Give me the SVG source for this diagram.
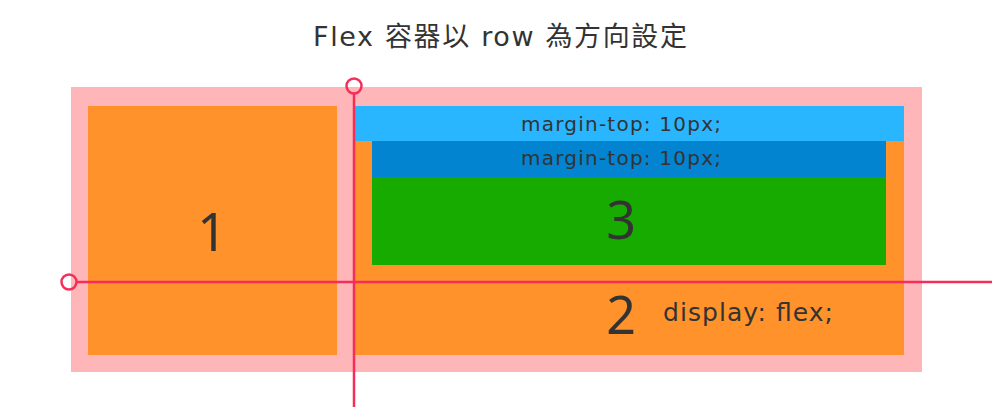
<svg xmlns="http://www.w3.org/2000/svg" width="1000" height="419" viewBox="0 0 1000 419">
<style>
text{font-family:"DejaVu Sans","Noto Sans CJK TC",sans-serif;fill:#333;}
.big{font-size:52px;text-anchor:middle;font-family:"Noto Sans",sans-serif;}
.m{font-size:20px;text-anchor:middle;}
.guide{stroke:#f72d59;stroke-width:2.5;fill:none;}
</style>
<rect width="1000" height="419" fill="#fff"/>
<text x="500" y="46" font-size="27" text-anchor="middle" textLength="374" lengthAdjust="spacing">Flex 容器以 row 為方向設定</text>
<g id="container">
<rect x="71" y="87" width="851" height="285" fill="#ffb6b9"/>
</g>
<g id="item1">
<rect x="88" y="106" width="249" height="249" fill="#ff922b"/>
<text class="big" x="212" y="251">1</text>
</g>
<g id="item2">
<rect x="355" y="106" width="549" height="35" fill="#29b6ff"/>
<rect x="355" y="141" width="549" height="214" fill="#ff922b"/>
<text class="m" x="621" y="131" textLength="200" lengthAdjust="spacing">margin-top: 10px;</text>
<text class="big" x="621" y="334">2</text>
<text x="663" y="321" font-size="25" textLength="170" lengthAdjust="spacing">display: flex;</text>
</g>
<g id="item3">
<rect x="372" y="141" width="514" height="36" fill="#0284d0"/>
<rect x="372" y="177" width="514" height="88" fill="#17ab00"/>
<text class="m" x="621" y="165" textLength="200" lengthAdjust="spacing">margin-top: 10px;</text>
<text class="big" x="621" y="239">3</text>
</g>
<g id="connectors">
<line class="guide" x1="354" y1="94" x2="354" y2="407"/>
<circle class="guide" cx="354" cy="86" r="7.5" fill="#fff"/>
<line class="guide" x1="77" y1="282" x2="992" y2="282"/>
<circle class="guide" cx="69" cy="282" r="7.5" fill="#fff"/>
</g>
</svg>
